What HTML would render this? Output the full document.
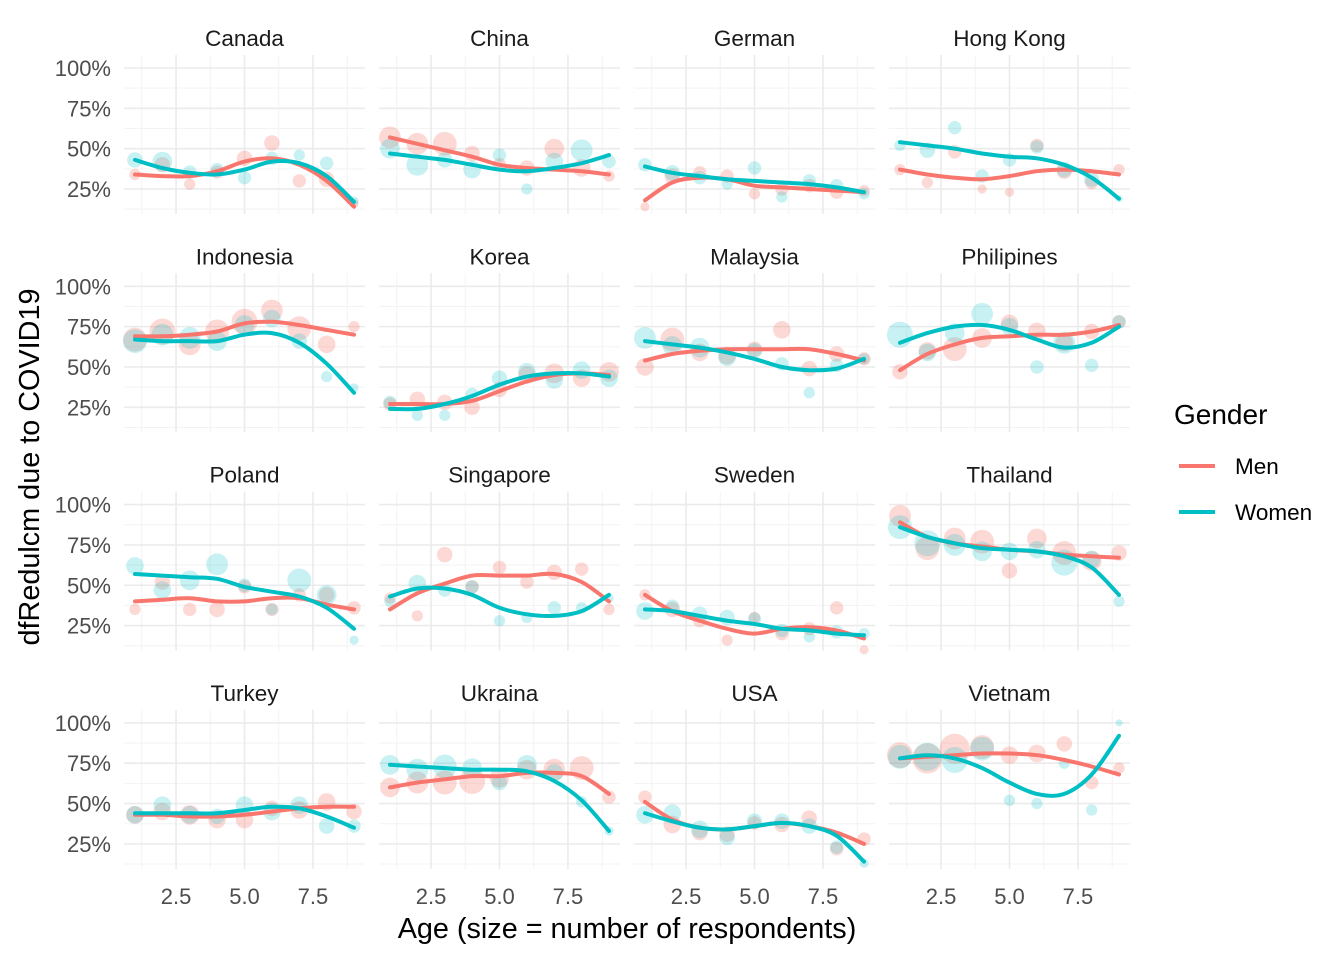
<!DOCTYPE html>
<html><head><meta charset="utf-8"><style>
body{margin:0;background:#fff;}
svg{display:block;font-family:"Liberation Sans",Arial,sans-serif;}
</style></head><body>
<svg id="chart" width="1344" height="960" viewBox="0 0 1344 960" xmlns="http://www.w3.org/2000/svg">
<text x="0" y="0" transform="translate(39,467) rotate(-90)" text-anchor="middle" font-size="28.8" fill="#000">dfRedulcm due to COVID19</text>
<text x="627" y="938" text-anchor="middle" font-size="28.8" fill="#000">Age (size = number of respondents)</text>
<g>
<text x="1174" y="424" font-size="28" fill="#000">Gender</text>
<line x1="1179" y1="466" x2="1215" y2="466" stroke="#F8766D" stroke-width="4"/>
<text x="1235" y="474" font-size="22.5" fill="#000">Men</text>
<line x1="1179" y1="512" x2="1215" y2="512" stroke="#00BFC4" stroke-width="4"/>
<text x="1235" y="520" font-size="22.5" fill="#000">Women</text>
</g>
<g id="panels"></g>
</svg>
<script>
const countries=["Canada","China","German","Hong Kong","Indonesia","Korea","Malaysia","Philipines","Poland","Singapore","Sweden","Thailand","Turkey","Ukraina","USA","Vietnam"];
const ages=[1,2,3,4,5,6,7,8,9];
const xTicks=[2.5,5.0,7.5];
const xTickLabels=["2.5","5.0","7.5"];
const yTicks=[0.25,0.5,0.75,1.0];
const yTickLabels=["25%","50%","75%","100%"];
const menPts=[
[0.34,0.40,0.28,0.355,0.44,0.535,0.30,0.31,0.16],
[0.57,0.53,0.53,0.47,0.40,0.38,0.50,0.38,0.33],
[0.14,0.33,0.35,0.33,0.22,0.25,0.27,0.23,0.24],
[0.37,0.29,0.48,0.25,0.23,0.52,0.36,0.29,0.37],
[0.67,0.72,0.64,0.72,0.78,0.85,0.74,0.64,0.75],
[0.27,0.30,0.28,0.25,0.36,0.45,0.46,0.43,0.47],
[0.50,0.67,0.59,0.57,0.61,0.73,0.49,0.58,0.55],
[0.47,0.60,0.61,0.68,0.77,0.72,0.65,0.72,0.78],
[0.35,0.52,0.35,0.35,0.49,0.35,0.44,0.44,0.36],
[0.42,0.31,0.69,0.49,0.61,0.52,0.58,0.60,0.35],
[0.44,0.35,0.28,0.16,0.30,0.20,0.23,0.36,0.10],
[0.93,0.73,0.79,0.77,0.59,0.79,0.70,0.65,0.70],
[0.43,0.45,0.43,0.40,0.40,0.47,0.46,0.51,0.45],
[0.60,0.63,0.63,0.64,0.66,0.71,0.71,0.72,0.54],
[0.54,0.37,0.32,0.31,0.38,0.37,0.41,0.22,0.28],
[0.80,0.78,0.84,0.85,0.80,0.81,0.87,0.63,0.72]];
const womenPts=[
[0.43,0.42,0.355,0.37,0.32,0.44,0.46,0.41,0.175],
[0.50,0.40,0.43,0.37,0.46,0.25,0.42,0.49,0.42],
[0.40,0.35,0.32,0.28,0.38,0.20,0.30,0.27,0.22],
[0.52,0.49,0.63,0.33,0.43,0.51,0.37,0.31,0.19],
[0.66,0.70,0.68,0.66,0.76,0.80,0.66,0.44,0.37],
[0.28,0.20,0.20,0.33,0.43,0.47,0.42,0.48,0.43],
[0.68,0.63,0.62,0.56,0.60,0.52,0.34,0.51,0.55],
[0.70,0.59,0.71,0.83,0.75,0.50,0.65,0.51,0.78],
[0.62,0.47,0.53,0.63,0.50,0.35,0.53,0.44,0.16],
[0.40,0.51,0.47,0.49,0.28,0.30,0.36,0.36,0.42],
[0.34,0.37,0.32,0.30,0.29,0.22,0.18,0.21,0.20],
[0.86,0.76,0.75,0.71,0.71,0.72,0.64,0.66,0.40],
[0.43,0.49,0.43,0.42,0.49,0.45,0.49,0.36,0.36],
[0.74,0.71,0.73,0.72,0.63,0.74,0.69,0.51,0.33],
[0.43,0.44,0.34,0.29,0.39,0.39,0.36,0.23,0.13],
[0.79,0.79,0.77,0.84,0.52,0.50,0.75,0.46,1.00]];
const menN=[[3,5,3,4,5,5,4,5,2],[8,8,9,5,4,5,7,6,3],[2,5,4,4,3,4,4,4,3],[3,3,4,2,2,4,5,4,3],[9,10,8,9,10,8,9,6,3],[4,5,5,5,5,6,7,6,7],[6,9,6,6,5,6,5,5,4],[5,6,9,7,6,6,6,5,4],[3,5,4,5,4,4,4,5,4],[3,3,5,4,4,4,5,4,3],[3,5,4,3,3,4,4,4,2],[8,9,8,9,5,7,9,7,5],[6,6,7,6,6,5,6,6,5],[7,8,9,10,7,7,8,9,4],[4,6,5,5,4,5,5,4,4],[10,12,12,9,6,6,5,4,3]];
const womenN=[[5,7,4,4,4,4,3,4,2],[7,8,5,6,4,3,6,8,4],[4,5,4,3,4,3,4,4,3],[3,5,4,4,4,4,5,5,1],[9,8,8,7,7,6,5,3,2],[4,3,3,4,5,6,6,6,6],[8,7,7,6,5,4,3,4,3],[10,6,7,8,6,4,8,4,4],[6,6,7,8,4,3,9,7,2],[3,6,4,4,3,3,4,3,2],[6,4,5,5,4,4,3,4,3],[9,10,8,7,6,6,10,6,3],[6,6,6,5,6,6,6,5,4],[7,8,9,7,5,7,6,3,2],[6,6,6,5,5,5,5,4,2],[9,11,10,9,3,3,3,3,1]];
const menLine=[
[0.34,0.33,0.33,0.36,0.42,0.44,0.40,0.30,0.14],
[0.57,0.53,0.49,0.45,0.40,0.38,0.37,0.36,0.34],
[0.18,0.29,0.32,0.31,0.27,0.26,0.25,0.24,0.23],
[0.37,0.34,0.32,0.31,0.33,0.36,0.37,0.36,0.34],
[0.69,0.69,0.70,0.72,0.77,0.78,0.76,0.73,0.70],
[0.27,0.27,0.27,0.29,0.35,0.41,0.45,0.46,0.45],
[0.54,0.58,0.60,0.61,0.61,0.61,0.61,0.58,0.54],
[0.48,0.58,0.64,0.68,0.69,0.70,0.70,0.72,0.76],
[0.40,0.41,0.42,0.40,0.40,0.42,0.42,0.38,0.35],
[0.35,0.45,0.51,0.56,0.56,0.56,0.57,0.52,0.40],
[0.44,0.34,0.28,0.23,0.20,0.23,0.24,0.22,0.17],
[0.89,0.80,0.76,0.74,0.72,0.71,0.69,0.68,0.67],
[0.43,0.43,0.42,0.42,0.43,0.45,0.47,0.48,0.48],
[0.60,0.63,0.65,0.67,0.67,0.69,0.69,0.67,0.56],
[0.51,0.40,0.35,0.34,0.36,0.38,0.36,0.32,0.25],
[0.78,0.79,0.80,0.81,0.81,0.80,0.77,0.73,0.68]];
const womenLine=[
[0.43,0.38,0.35,0.34,0.37,0.42,0.41,0.33,0.17],
[0.47,0.45,0.43,0.40,0.37,0.36,0.38,0.41,0.46],
[0.39,0.35,0.33,0.31,0.30,0.29,0.28,0.26,0.23],
[0.54,0.52,0.50,0.47,0.45,0.44,0.40,0.32,0.19],
[0.67,0.66,0.66,0.66,0.70,0.71,0.65,0.52,0.34],
[0.24,0.24,0.27,0.32,0.39,0.44,0.46,0.46,0.44],
[0.66,0.64,0.62,0.59,0.55,0.50,0.48,0.49,0.55],
[0.65,0.71,0.75,0.76,0.73,0.67,0.62,0.65,0.75],
[0.57,0.56,0.55,0.54,0.49,0.46,0.43,0.36,0.23],
[0.43,0.48,0.48,0.44,0.36,0.32,0.31,0.34,0.44],
[0.35,0.34,0.31,0.28,0.26,0.23,0.22,0.20,0.19],
[0.86,0.80,0.76,0.73,0.72,0.71,0.68,0.61,0.44],
[0.44,0.44,0.44,0.44,0.46,0.48,0.47,0.42,0.35],
[0.74,0.73,0.72,0.71,0.71,0.70,0.64,0.52,0.33],
[0.44,0.39,0.35,0.34,0.36,0.38,0.36,0.30,0.14],
[0.78,0.80,0.78,0.72,0.63,0.56,0.56,0.68,0.92]];

const NS="http://www.w3.org/2000/svg";
const root=document.getElementById("panels");
function mk(tag,attrs,parent){const e=document.createElementNS(NS,tag);for(const k in attrs)e.setAttribute(k,attrs[k]);parent.appendChild(e);return e;}
const PW=241,PH=159;
function spline(pts){let d="M"+pts[0][0].toFixed(1)+","+pts[0][1].toFixed(1);
 for(let i=0;i<pts.length-1;i++){const p0=pts[i-1]||pts[i],p1=pts[i],p2=pts[i+1],p3=pts[i+2]||p2;
  const c1=[p1[0]+(p2[0]-p0[0])/6,p1[1]+(p2[1]-p0[1])/6],c2=[p2[0]-(p3[0]-p1[0])/6,p2[1]-(p3[1]-p1[1])/6];
  d+="C"+c1[0].toFixed(1)+","+c1[1].toFixed(1)+" "+c2[0].toFixed(1)+","+c2[1].toFixed(1)+" "+p2[0].toFixed(1)+","+p2[1].toFixed(1);}
 return d;}
countries.forEach((name,i)=>{
 const r=Math.floor(i/4),c=i%4;
 const left=124+255*c,top=55+218.3*r;
 const xs=v=>left+(v-0.6)/8.8*PW;
 const ys=v=>top+13+(1-v)*161.3;
 const g=mk("g",{},root);
 
 
 [1.25,3.75,6.25,8.75].forEach(v=>mk("line",{x1:xs(v),x2:xs(v),y1:top,y2:top+PH,stroke:"#f3f3f3","stroke-width":1},g));
 [0.125,0.375,0.625,0.875].forEach(v=>mk("line",{x1:left,x2:left+PW,y1:ys(v),y2:ys(v),stroke:"#f3f3f3","stroke-width":1},g));
 xTicks.forEach(v=>mk("line",{x1:xs(v),x2:xs(v),y1:top,y2:top+PH,stroke:"#ebebeb","stroke-width":1.6},g));
 yTicks.forEach(v=>mk("line",{x1:left,x2:left+PW,y1:ys(v),y2:ys(v),stroke:"#ebebeb","stroke-width":1.6},g));
 const st=mk("text",{x:left+PW/2,y:top-9,"text-anchor":"middle","font-size":22.5,fill:"#1a1a1a"},g);
 st.textContent=name;
 
 
 if(c===0){yTicks.forEach((v,k)=>{const t=mk("text",{x:111,y:ys(v)+8,"text-anchor":"end","font-size":22,fill:"#4d4d4d"},g);t.textContent=yTickLabels[k];
  
  });}
 if(r===3){xTicks.forEach((v,k)=>{const t=mk("text",{x:xs(v),y:904,"text-anchor":"middle","font-size":22,fill:"#4d4d4d"},g);t.textContent=xTickLabels[k];
  
  });}
 ages.forEach((a,k)=>{const p=mk("circle",{cx:xs(a),cy:ys(menPts[i][k]),r:2.5+menN[i][k]*1.05,fill:"#F8766D","fill-opacity":0.28},g);
  
  });
 ages.forEach((a,k)=>{const p=mk("circle",{cx:xs(a),cy:ys(womenPts[i][k]),r:2.5+womenN[i][k]*1.05,fill:"#00BFC4","fill-opacity":0.22},g);
  
  });
 const lm=mk("path",{d:spline(ages.map((a,k)=>[xs(a),ys(menLine[i][k])])),fill:"none",stroke:"#F8766D","stroke-width":4,"stroke-linecap":"round"},g);
 
 
 const lw=mk("path",{d:spline(ages.map((a,k)=>[xs(a),ys(womenLine[i][k])])),fill:"none",stroke:"#00BFC4","stroke-width":4,"stroke-linecap":"round"},g);
 
 
});
</script>
</body></html>
